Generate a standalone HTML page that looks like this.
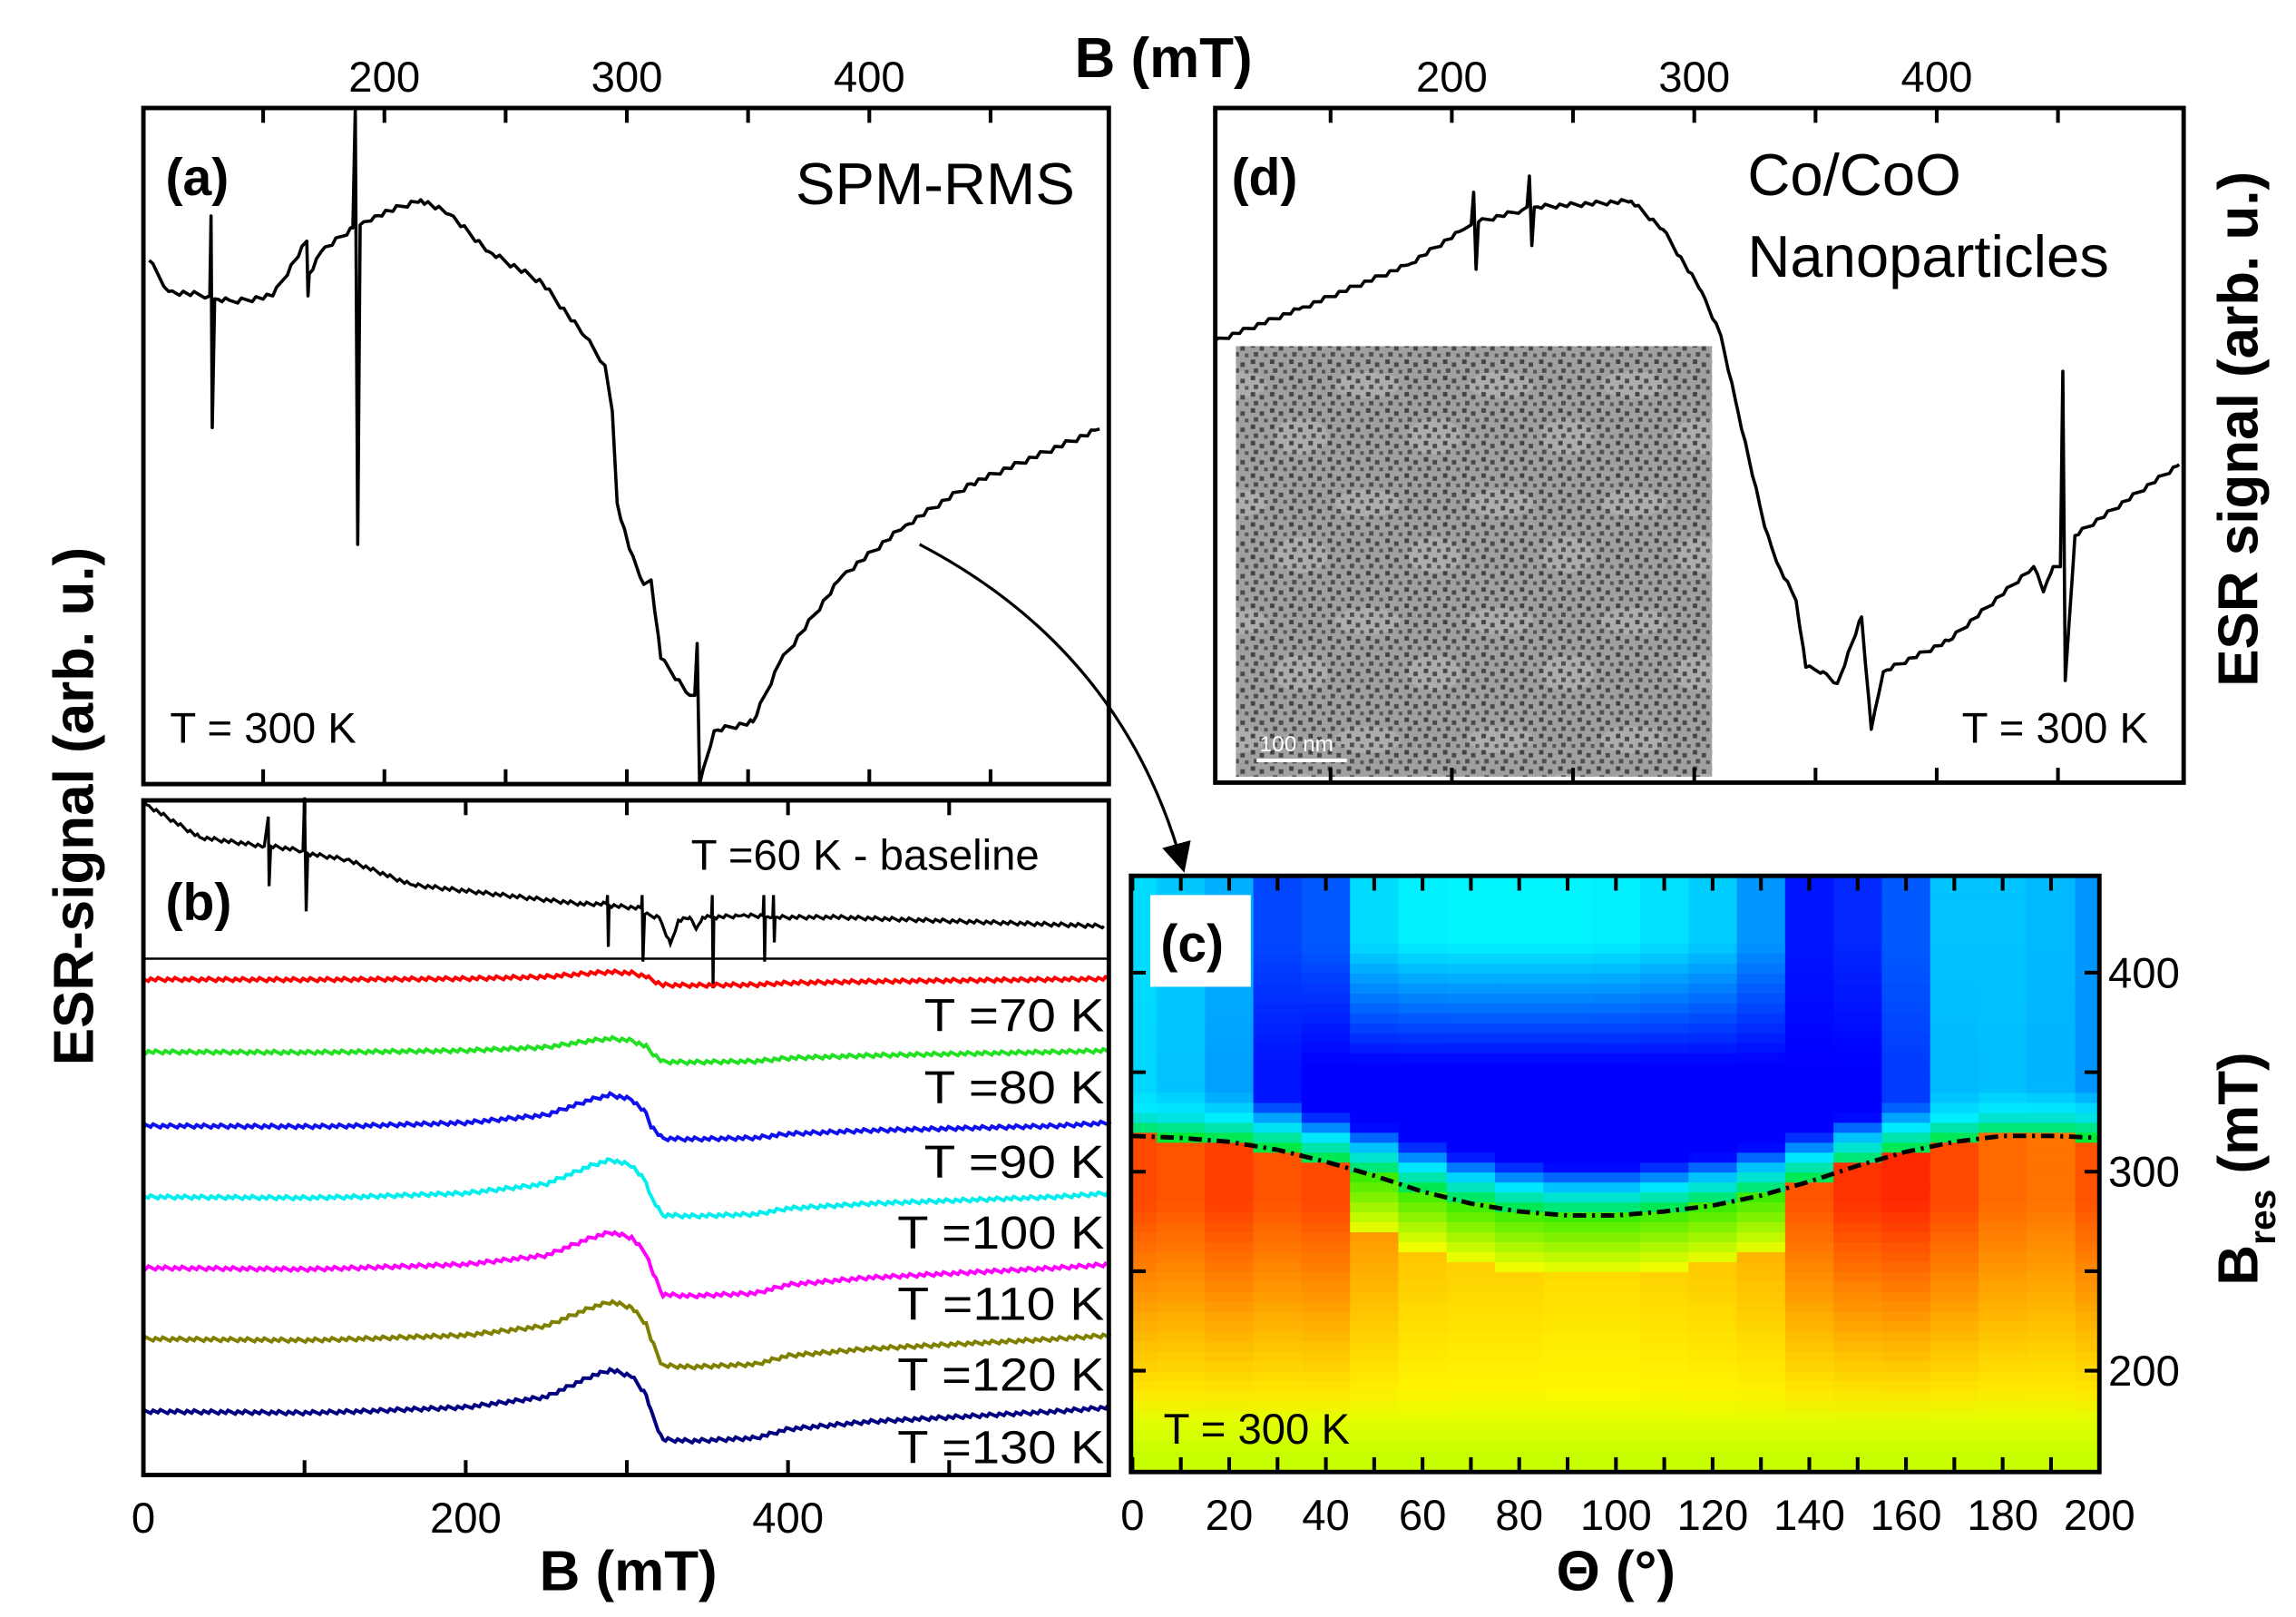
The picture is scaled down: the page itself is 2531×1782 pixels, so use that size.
<!DOCTYPE html>
<html><head><meta charset="utf-8"><style>
html,body{margin:0;padding:0;background:#fff}
svg{display:block}
text{font-family:"Liberation Sans",sans-serif}
</style></head><body>
<svg id="fig" xmlns="http://www.w3.org/2000/svg" width="2531" height="1782" viewBox="0 0 1553 1093" preserveAspectRatio="none">
<defs>
<pattern id="dots" width="13" height="11" patternUnits="userSpaceOnUse">
<rect x="1" y="1" width="3" height="3" fill="#2a2a2a"/><rect x="7" y="3" width="3" height="3" fill="#333"/><rect x="3" y="7" width="3" height="3" fill="#3a3a3a"/><rect x="10" y="8" width="2.5" height="2.5" fill="#444"/>
</pattern>
<pattern id="blobs" width="90" height="80" patternUnits="userSpaceOnUse">
<ellipse cx="25" cy="20" rx="22" ry="9" fill="#adadad"/><ellipse cx="70" cy="55" rx="18" ry="12" fill="#adadad"/>
</pattern>
<marker id="ah" markerWidth="10" markerHeight="10" refX="8" refY="5" orient="auto"><path d="M0,0 L10,5 L0,10 z" fill="#000"/></marker>
</defs>
<g id="heat"></g>
<g id="lines"></g>
<g id="frames"></g>
</svg>
<script>
// ---- data ----
const aB  = [103,111,128,128.5,129,130,138,154,168,168.5,169,174,187,188,189,190,196,215,227,243,265,283,291,294,296,301,307,310,314,326,328,329,330,336,352,363,389,415,442,495];
const aY  = [176,197,200,146,289,202,204,200,163,200,185,170,154,73,368,152,146,135,145,170,191,228,247,278,340,371,395,392,445,470,470,435,530,494,488,448,389,355,327,290];
const dB  = [102,137,182,205,208,209,210,211,229,231,232,233,234,274,287,303,311,318,329,334,342,346,353,359,369,373,378,405,440,444,448,451,452,453,457,500];
const dY  = [231,209,179,155,152,130,182,150,142,140,119,166,140,136,155,197,227,278,356,380,406,451,454,462,417,493,454,433,383,400,383,383,251,460,362,314];
const baseB = [0,2,35,75,77.5,78,79,99,100,101,102,126,166,272,287.5,288,288.5,289,309,309.5,310,311,320,327,332,339,343,347,352.5,353,353.5,354,371,384.5,385,385.5,386,390.5,391,391.5,392,430,596];
const baseY = [541,544,566,572,552,599,572,575,539,616,577,581,598,611,611,605,640,612,614,605,650,618,620,638,622,620,628,620,620,605,668,620,619,619,605,650,620,620,605,637,620,620,626];
const temps = ["70","80","90","100","110","120","130"];
const tOffset = [662,711,761,809,857,905,954];
const tAmp = [5,9,21,25,24,25,28];
const tDip = [4,7,9,13,19,19,20];
const tColor = ["#ff0000","#22e022","#1010ee","#00eeee","#ff00ff","#808000","#000080"];
const shapeB = [0,100,200,250,278,290,303,312,322,340,380,400,450,600];
const shapeV = [0,0.05,-0.1,-0.35,-0.85,-1,-0.85,-0.4,0.95,1,0.9,0.6,0.35,-0.1];
const angles = [0,10,20,30,40,50,60,70,80,90,100,110,120,130,140,150,160,170,180,190,200];
const bres   = [318,317,315,311,305,298,290,284,280,278,278,280,283,288,295,303,310,315,318,318,317];
const topG   = [220,200,175,70,90,220,240,245,245,245,240,225,205,150,20,40,90,195,195,185,150];
const midG   = [215,195,160,20,0,0,0,0,0,0,0,0,0,0,0,0,60,185,190,180,150];
const redness= [0.85,0.8,0.9,0.8,0.85,0.55,0.35,0.3,0.3,0.25,0.25,0.3,0.35,0.45,0.8,0.95,1,0.85,0.7,0.65,0.8];
// ---- helpers ----
const NS="http://www.w3.org/2000/svg";
function mk(tag,attrs,parent){const e=document.createElementNS(NS,tag);for(const k in attrs)e.setAttribute(k,attrs[k]);(parent||document.getElementById('lines')).appendChild(e);return e;}
function interp(xs,ys,x){for(let i=0;i<xs.length-1;i++){if(x>=xs[i]&&x<=xs[i+1]){const t=(x-xs[i])/((xs[i+1]-xs[i])||1);return ys[i]+t*(ys[i+1]-ys[i]);}}return x<xs[0]?ys[0]:ys[ys.length-1];}
function jit(k){return ((k*37)%7-3)*0.5;}
const xa=b=>260+(b-200)*1.64;
const xd=b=>982+(b-200)*1.64;
const xb=b=>97+b*1.09;
const xc=a=>766+a*3.27;
const yc=b=>792-(b-300)*1.345;
function dense(B,Y,xf,amp){const pts=[];for(let i=0;i<B.length;i++){pts.push(xf(B[i])+','+Y[i]);if(i<B.length-1&&B[i+1]-B[i]>3){for(let b=B[i]+1.5,k=0;b<B[i+1]-0.5;b+=1.5,k++){pts.push(xf(b)+','+(interp(B,Y,b)+amp*jit(k+i)));}}}return pts.join(' ');}
// ---- spectra ----
let p=mk('polyline',{points:dense(aB,aY,xa,1.2),fill:'none',stroke:'#000','stroke-width':2.2,'stroke-linejoin':'round'});

p=mk('polyline',{points:dense(dB,dY,xd,1),fill:'none',stroke:'#000','stroke-width':2.2,'stroke-linejoin':'round'});

p=mk('polyline',{points:dense(baseB,baseY,xb,0.8),fill:'none',stroke:'#000','stroke-width':2});

temps.forEach((t,k)=>{
  const pts=[];let n=0;
  for(let b=0;b<=600;b+=1.5){n++;const v=interp(shapeB,shapeV,b);const s=v<0?tAmp[k]*v:tDip[k]*v;pts.push(xb(b)+','+(tOffset[k]+s+jit(n+k)*0.8));}
  const l=mk('polyline',{points:pts.join(' '),fill:'none',stroke:tColor[k],'stroke-width':2.4});
  
  const tx=mk('text',{x:747,y:tOffset[k]+35,'text-anchor':'end','font-size':31,'textLength':(t.length>2?140:122),'lengthAdjust':'spacingAndGlyphs'});tx.textContent='T ='+t+' K';
  
});
// ---- heatmap ----
const heat=document.getElementById('heat');
function heatColor(i,b){
  const d=b-bres[i];
  if(d>25){const f=Math.max(0,Math.min(1,(b-355)/60));const g=Math.round(midG[i]+(topG[i]-midG[i])*f);return `rgb(0,${g},255)`;}
  if(d>12){const f=(d-12)/13;const g=Math.round(240+(midG[i]-240)*f);return `rgb(0,${g},255)`;}
  if(d>0){const f=d/12;return `rgb(0,${Math.round(235-10*f)},${Math.round(40+215*f)})`;}
  const r=redness[i];
  if(r<0.6&&d>-30){const f=(-d)/30;return `rgb(${Math.round(60+195*f)},${Math.round(235+20*f)},0)`;}
  const w=Math.max(0,Math.min(1,(b-175)/110));
  let G=Math.round(255-215*r*w);
  let R=b<190?Math.round(200+55*Math.max(0,(b-160)/30)):255;
  return `rgb(${R},${G},0)`;
}
angles.forEach((a,i)=>{
  const x0=Math.max(766,xc(a-5)),x1=Math.min(1420,xc(a+5));
  for(let b=150;b<455;b+=5){
    const y0=Math.max(592,yc(b+5)),y1=Math.min(995,yc(b));
    if(y1<=y0)continue;
    const r=mk('rect',{x:x0,y:y0,width:x1-x0+0.6,height:y1-y0+0.6,fill:heatColor(i,b+2.5)},heat);
    
  }
});
p=mk('polyline',{points:angles.map((a,i)=>xc(a)+','+yc(bres[i])).join(' '),fill:'none',stroke:'#000','stroke-width':3,'stroke-dasharray':'9 4 2 4'});

// ---- frames and ticks ----
const fr=document.getElementById('frames');
function rect(x,y,w,h,n){const r=mk('rect',{x,y,width:w,height:h,fill:'none',stroke:'#000','stroke-width':3},fr);}
function tick(x1,y1,x2,y2){mk('line',{x1,y1,x2,y2,stroke:'#000','stroke-width':2.5},fr);}
function lab(x,y,s,fs,anchor,n,w){const t=mk('text',{x,y,'font-size':fs,'text-anchor':anchor||'middle','font-weight':w||'normal'},fr);t.textContent=s;return t;}
// TEM inset
let r=mk('rect',{x:836,y:234,width:322,height:291,fill:'#a0a0a0'},fr);
mk('rect',{x:836,y:234,width:322,height:291,fill:'url(#blobs)'},fr);
mk('rect',{x:836,y:234,width:322,height:291,fill:'url(#dots)',opacity:0.8},fr);
mk('line',{x1:850,y1:514,x2:911,y2:514,stroke:'#fff','stroke-width':2.5},fr);
let t=lab(852,508,'100 nm',15,'start','scale-bar-label');t.setAttribute('fill','#fff');
rect(97,73,653,457,'panel-a');rect(97,541,653,456,'panel-b');rect(822,73,655,456,'panel-d');rect(765,592,655,403,'panel-c');
mk('line',{x1:97,y1:648,x2:750,y2:648,stroke:'#000','stroke-width':1.5},fr);
[150,200,250,300,350,400,450].forEach(b=>{const L=10;tick(xa(b),73,xa(b),73+L);tick(xa(b),530,xa(b),530-L);tick(xd(b),73,xd(b),73+L);tick(xd(b),529,xd(b),529-L);});
[200,300,400].forEach(b=>{lab(xa(b),62,b,29,'middle','top-tick-a-'+b);lab(xd(b),62,b,29,'middle','top-tick-d-'+b);});
[0,100,200,300,400,500].forEach(b=>{tick(xb(b),997,xb(b),987);tick(xb(b),541,xb(b),551);});
[0,200,400].forEach(b=>lab(xb(b),1036,b,29,'middle','bottom-tick-b-'+b));
angles.forEach(a=>{const L=10;tick(xc(a),995,xc(a),995-L);tick(xc(a),592,xc(a),592+L);});
[0,20,40,60,80,100,120,140,160,180,200].forEach(a=>lab(xc(a),1034,a,29,'middle','theta-tick-'+a));
[200,250,300,350,400].forEach(b=>{tick(1420,yc(b),1410,yc(b));tick(765,yc(b),775,yc(b));});
[200,300,400].forEach(b=>lab(1426,yc(b)+10,b,29,'start','bres-tick-'+b));
// labels
mk('rect',{x:778,y:605,width:68,height:62,fill:'#fff'},fr);
lab(112,132,'(a)',35,'start','label-a','bold');lab(112,622,'(b)',35,'start','label-b','bold');
lab(785,650,'(c)',35,'start','label-c','bold');lab(833,132,'(d)',35,'start','label-d','bold');
lab(727,138,'SPM-RMS',40,'end','title-spm-rms');
lab(1182,132,'Co/CoO',40,'start','title-coco');lab(1182,187,'Nanoparticles',40,'start','title-nanoparticles');
lab(115,502,'T = 300 K',29,'start','temp-a');lab(1453,502,'T = 300 K',29,'end','temp-d');lab(787,976,'T = 300 K',29,'start','temp-c');
lab(703,588,'T =60 K - baseline',29,'end','baseline-label');
lab(787,52,'B (mT)',38,'middle','top-axis-title','bold');
lab(425,1075,'B (mT)',38,'middle','bottom-axis-title','bold');
lab(1093,1075,'Θ (°)',38,'middle','theta-axis-title','bold');
t=lab(0,0,'ESR-signal (arb. u.)',38,'middle','left-axis-title','bold');t.setAttribute('transform','translate(63,545) rotate(-90)');
t=lab(0,0,'ESR signal (arb. u.)',38,'middle','right-axis-title','bold');t.setAttribute('transform','translate(1527,290) rotate(-90)');
t=mk('text',{'font-size':38,'font-weight':'bold','text-anchor':'middle',transform:'translate(1527,790) rotate(-90)'},fr);
t.innerHTML='B<tspan font-size="25" dy="12">res</tspan><tspan dy="-12"> (mT)</tspan>';

// arrow
p=mk('path',{d:'M622,368 Q760,440 800,586',fill:'none',stroke:'#000','stroke-width':2,'marker-end':'url(#ah)'},fr);

</script>
</body></html>
